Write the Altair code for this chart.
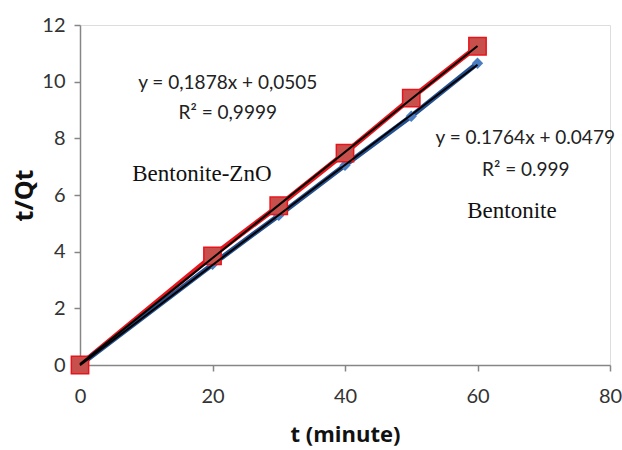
import altair as alt
import pandas as pd

# Data
t_min = [0, 20, 30, 40, 50, 60]
bent_zno = [0.0, 3.85, 5.62, 7.48, 9.42, 11.25]
bent = [0.0, 3.55, 5.28, 7.05, 8.78, 10.65]

series_names = ["Bentonite-ZnO", "Bentonite"]

# annotation texts (positions in data units)
ann_text = ["y = 0,1878x + 0,0505", "R\u00b2 = 0,9999", "y = 0.1764x + 0.0479", "R\u00b2 = 0.999"]
ann_x = [22.3, 22.3, 67.2, 67.3]
ann_y = [9.95, 8.9, 8.0, 6.88]

lab_text = ["Bentonite-ZnO", "Bentonite"]
lab_x = [18.4, 65.2]
lab_y = [6.75, 5.45]

rows = []
for t, a, b in zip(t_min, bent_zno, bent):
    rows.append({"t": t, "q": a, "s": series_names[0]})
    rows.append({"t": t, "q": b, "s": series_names[1]})
df = pd.DataFrame(rows)
ann = pd.DataFrame({"text": ann_text, "x": ann_x, "y": ann_y})
lab = pd.DataFrame({"text": lab_text, "x": lab_x, "y": lab_y})

xscale = alt.Scale(domain=[0, 80], nice=False)
yscale = alt.Scale(domain=[0, 12], nice=False)

axis_common = dict(
    domainColor="#868686", domainWidth=1.5, tickColor="#868686", tickWidth=1.5,
    tickSize=6, grid=False, labelFont="Lato", labelFontSize=20, labelColor="#333333",
    labelFlush=False, titleFont="Open Sans", titleFontWeight="bold", titleColor="#111111",
)

x_enc = alt.X("t:Q", scale=xscale,
              axis=alt.Axis(title="t (minute)", values=[0, 20, 40, 60, 80], labelPadding=15,
                            titlePadding=18, titleFontSize=22, **axis_common))
y_enc = alt.Y("q:Q", scale=yscale,
              axis=alt.Axis(title="t/Qt", values=[0, 2, 4, 6, 8, 10, 12], labelPadding=9,
                            titlePadding=4, titleFontSize=25, **axis_common))

color_scale = alt.Scale(domain=series_names, range=["#e8141b", "#24508f"])

base = alt.Chart(df)

series_lines = base.mark_line(strokeWidth=5).encode(
    x=x_enc, y=y_enc,
    color=alt.Color("s:N", scale=color_scale, legend=None),
    detail="s:N",
)

red_pts = base.transform_filter(alt.datum.s == series_names[0]).mark_square(
    size=300, color="#c8504c", stroke="#e8141b", strokeWidth=1.5, opacity=1
).encode(x="t:Q", y="q:Q")

blue_pts = base.transform_filter(alt.datum.s == series_names[1]).mark_point(
    shape="diamond", size=130, filled=True, color="#4a7cc0", opacity=1
).encode(x="t:Q", y="q:Q")

reg = base.transform_regression("t", "q", groupby=["s"]).mark_line(
    color="#000000", strokeWidth=2
).encode(x="t:Q", y="q:Q", detail="s:N")

ann_layer = alt.Chart(ann).mark_text(
    font="Lato", fontSize=19, color="#222222", align="center", baseline="middle"
).encode(x="x:Q", y="y:Q", text="text:N")

lab_layer = alt.Chart(lab).mark_text(
    font="Liberation Serif", fontSize=23, color="#111111", align="center", baseline="middle"
).encode(x="x:Q", y="y:Q", text="text:N")

chart = alt.layer(
    series_lines, blue_pts, red_pts, reg, ann_layer, lab_layer
).properties(
    width=530, height=340,
    autosize=alt.AutoSizeParams(type="none"),
    padding={"left": 80, "top": 25, "right": 12, "bottom": 85},
).configure_view(stroke=None).configure(background="white")

chart.save("out.html", embed_options={"renderer": "svg", "actions": False})
